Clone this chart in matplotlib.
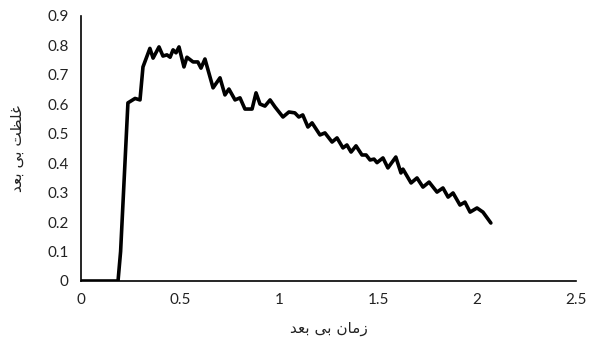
import matplotlib
matplotlib.use("Agg")
import matplotlib.pyplot as plt

x_vals = [0.0, 0.187, 0.20, 0.237, 0.273, 0.298, 0.313, 0.348, 0.364, 0.394, 0.414, 0.434,
          0.45, 0.465, 0.48, 0.495, 0.52, 0.535, 0.566, 0.59, 0.606, 0.626, 0.667, 0.702,
          0.727, 0.747, 0.778, 0.803, 0.828, 0.864, 0.884, 0.904, 0.929, 0.955, 0.98, 1.02,
          1.05, 1.08, 1.10, 1.12, 1.146, 1.167, 1.207, 1.232, 1.268, 1.293, 1.323, 1.343,
          1.364, 1.389, 1.419, 1.44, 1.46, 1.48, 1.495, 1.525, 1.55, 1.59, 1.616, 1.626,
          1.667, 1.697, 1.727, 1.758, 1.798, 1.828, 1.854, 1.879, 1.914, 1.939, 1.965, 2.0,
          2.03, 2.07]
y_vals = [0.0, 0.0, 0.1, 0.605, 0.62, 0.615, 0.727, 0.79, 0.757, 0.795, 0.764, 0.768,
          0.76, 0.785, 0.775, 0.795, 0.727, 0.76, 0.744, 0.744, 0.723, 0.754, 0.656, 0.69,
          0.632, 0.652, 0.615, 0.622, 0.584, 0.584, 0.639, 0.601, 0.594, 0.615, 0.591, 0.557,
          0.574, 0.571, 0.557, 0.564, 0.523, 0.537, 0.496, 0.503, 0.472, 0.486, 0.452, 0.462,
          0.438, 0.459, 0.428, 0.428, 0.411, 0.414, 0.402, 0.418, 0.384, 0.421, 0.367, 0.38,
          0.333, 0.35, 0.319, 0.336, 0.302, 0.316, 0.285, 0.299, 0.258, 0.268, 0.234, 0.248,
          0.234, 0.197]
x_ticks = [0, 0.5, 1, 1.5, 2, 2.5]
x_tick_labels = ["0", "0.5", "1", "1.5", "2", "2.5"]
y_ticks = [0, 0.1, 0.2, 0.3, 0.4, 0.5, 0.6, 0.7, 0.8, 0.9]
y_tick_labels = ["0", "0.1", "0.2", "0.3", "0.4", "0.5", "0.6", "0.7", "0.8", "0.9"]
# Persian labels, pre-shaped (presentation forms, visual order)
x_label = "\uFEAA\uFECC\uFE91 \uFEF0\uFE91 \uFEE5\uFE8E\uFEE3\uFEAF"   # زمان بی بعد
y_label = "\uFEAA\uFECC\uFE91 \uFEF0\uFE91 \uFE96\uFEC8\uFEE0\uFECF"   # غلظت بی بعد

fig = plt.figure(figsize=(6.03, 3.49), dpi=100)
ax = fig.add_axes([81/603, 68/349, 495/603, 265/349])
ax.plot(x_vals, y_vals, color="black", linewidth=2.6, solid_joinstyle="round",
        solid_capstyle="round")
ax.set_xlim(0, 2.5)
ax.set_ylim(0, 0.9)
ax.set_xticks(x_ticks)
ax.set_xticklabels(x_tick_labels)
ax.set_yticks(y_ticks)
ax.set_yticklabels(y_tick_labels)
ax.tick_params(length=0, labelsize=11, colors="#222222", pad=9)
for lab in ax.get_xticklabels() + ax.get_yticklabels():
    lab.set_family(["Lato", "DejaVu Sans"])
ax.spines["top"].set_visible(False)
ax.spines["right"].set_visible(False)
for s in ("left", "bottom"):
    ax.spines[s].set_linewidth(1.2)
    ax.spines[s].set_color("black")
ax.set_xlabel(x_label, fontsize=11, family=["DejaVu Sans"], labelpad=10, color="#222222")
ax.set_ylabel(y_label, fontsize=11, family=["DejaVu Sans"], labelpad=16, color="#222222")
fig.savefig("out.png", dpi=100)
